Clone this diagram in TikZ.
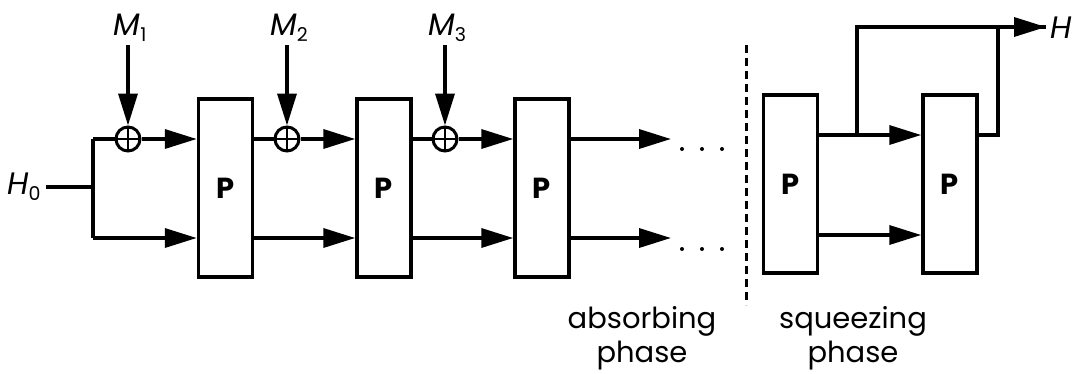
\documentclass[tikz,border=0pt]{standalone}
\usepackage{fontspec}
\setmainfont{Poppins}
\usetikzlibrary{arrows.meta}
\begin{document}
\begin{tikzpicture}[x=1pt,y=-1pt,
  line width=3.5pt,
  box/.style={draw,line width=3.5pt,minimum width=54pt,minimum height=178pt,inner sep=0pt,font=\fontsize{29}{29}\selectfont\bfseries},
  xor/.style={draw,circle,line width=3pt,minimum size=24pt,inner sep=0pt,path picture={\draw[line width=2.5pt] (path picture bounding box.north) -- (path picture bounding box.south) (path picture bounding box.west) -- (path picture bounding box.east);}},
  arr/.style={-{Triangle[length=32pt,width=19pt]}},
  lbl/.style={font=\fontsize{31}{31}\selectfont\itshape,inner sep=0pt},
  phase/.style={font=\fontsize{29}{34}\selectfont,align=center,inner sep=0pt},
  dot/.style={fill,circle,inner sep=0pt,minimum size=4pt}
]
\useasboundingbox (0,0) rectangle (1079,373);
% boxes
\node[box] (p1) at (225.5,188) {P};
\node[box] (p2) at (384,188) {P};
\node[box] (p3) at (542,188) {P};
\node[box] (p4) at (790.5,184) {P};
\node[box] (p5) at (950,184) {P};
% input
\node[lbl] (h0) at (24,187) {H\raisebox{-6pt}{\fontsize{19}{19}\selectfont\upshape 0}};
\coordinate (b) at (93,187);
\coordinate (bt) at (93,139);
\coordinate (bb) at (93,238);
\draw (h0.east) ++(4pt,0) -- (b);
\draw (bt) -- (bb);
% xors
\node[xor] (x1) at (128,139) {};
\node[xor] (x2) at (287,139) {};
\node[xor] (x3) at (445,139) {};
\node[lbl] (m1) at (130,28) {M\raisebox{-6pt}{\fontsize{19}{19}\selectfont\upshape 1}};
\node[lbl] (m2) at (289,28) {M\raisebox{-6pt}{\fontsize{19}{19}\selectfont\upshape 2}};
\node[lbl] (m3) at (447,28) {M\raisebox{-6pt}{\fontsize{19}{19}\selectfont\upshape 3}};
\draw[arr] (128,45) -- (x1.north);
\draw[arr] (287,45) -- (x2.north);
\draw[arr] (445,45) -- (x3.north);
% upper row
\draw (bt) -- (x1.west);
\draw[arr] (x1.east) -- (p1.west |- x1);
\draw (p1.east |- x2) -- (x2.west);
\draw[arr] (x2.east) -- (p2.west |- x2);
\draw (p2.east |- x3) -- (x3.west);
\draw[arr] (x3.east) -- (p3.west |- x3);
\coordinate (e1) at (671,139);
\draw[arr] (p3.east |- e1) -- (e1);
% lower row
\draw[arr] (bb) -- (p1.west |- bb);
\draw[arr] (p1.east |- bb) -- (p2.west |- bb);
\draw[arr] (p2.east |- bb) -- (p3.west |- bb);
\coordinate (e2) at (671,238);
\draw[arr] (p3.east |- e2) -- (e2);
% dots
\foreach \xx [count=\i] in {682,702,722}{
  \node[dot] (du\i) at (\xx,149) {};
  \node[dot] (dl\i) at (\xx,249) {};
}
% dashed separator
\coordinate (s1) at (746,45);
\coordinate (s2) at (746,305);
\draw[line width=3pt,dash pattern=on 8pt off 5pt] (s1) -- (s2);
% squeezing
\coordinate (j) at (857,135);
\coordinate (jt) at (857,27);
\coordinate (k) at (998,135);
\coordinate (kt) at (998,27);
\coordinate (hout) at (1046,27);
\draw (p4.east |- j) -- (j);
\draw[arr] (j) -- (p5.west |- j);
\draw (j) -- (jt) -- (hout);
\draw (p5.east |- k) -- (k) -- (kt);
\draw[arr] (kt) -- (hout);
\node[lbl,anchor=west] (h) at (1049,28) {H};
\draw[arr] (p4.east |- 0,235) -- (p5.west |- 0,235);
% phase labels
\node[phase] (ab) at (642,338) {absorbing\\phase};
\node[phase] (sq) at (853,338) {squeezing\\phase};
\end{tikzpicture}
\end{document}
